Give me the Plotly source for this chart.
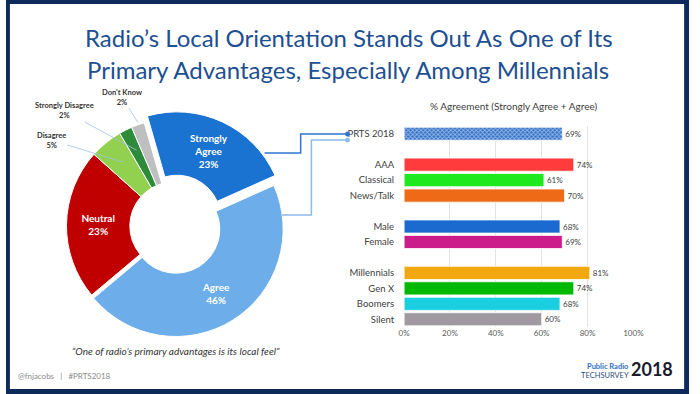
import math
import plotly.graph_objects as go

W, H = 700, 394

# ---------------- data ----------------
pie_labels = ["Strongly Agree", "Agree", "Neutral", "Disagree", "Strongly Disagree", "Don't Know"]
pie_values = [23, 46, 23, 5, 2, 2]
pie_colors = ["#1a73d0", "#6daeea", "#c00000", "#92d050", "#2e8b3a", "#bfbfbf"]

bar_categories = ["PRTS 2018", " ", "AAA", "Classical", "News/Talk", "  ",
                  "Male", "Female", "   ", "Millennials", "Gen X", "Boomers", "Silent"]
bar_values = [69, None, 74, 61, 70, None, 68, 69, None, 81, 74, 68, 60]
bar_colors = ["#2f6fc8", "#ffffff", "#ff3b3b", "#1ee81e", "#ef6a16", "#ffffff",
              "#1a6ad0", "#cc1c8c", "#ffffff", "#f2a90f", "#00b800", "#1ccfe0", "#a09aa0"]
x_ticks = [0, 20, 40, 60, 80, 100]


def px(x):
    return x / W


def py(y):
    return 1 - y / H


FONT = "Lato"

fig = go.Figure()

# ---------------- donut ----------------
cx, cy, R = 172, 226, 110
pulls = [0.07, 0.035, 0, 0, 0, 0]
half = R * (1 + max(pulls))
rotation = -16
inside_show = [True, True, True, False, False, False]
inside_text = []
total = sum(pie_values)
for lab, v, show in zip(pie_labels, pie_values, inside_show):
    if show:
        t = lab.replace("Strongly ", "Strongly<br>")
        inside_text.append(f"<b>{t}<br>{round(v)}%</b>")
    else:
        inside_text.append("")

fig.add_trace(go.Pie(
    labels=pie_labels, values=pie_values, sort=False, direction="clockwise",
    rotation=rotation, hole=0.41, pull=pulls,
    marker=dict(colors=pie_colors, line=dict(color="white", width=1)),
    text=inside_text, textinfo="text", textposition="inside",
    insidetextorientation="horizontal",
    textfont=dict(family=FONT, size=10, color="white"),
    domain=dict(x=[px(cx - half), px(cx + half)], y=[py(cy + half), py(cy - half)]),
    showlegend=False, hoverinfo="label+value",
))

annotations = []
# outside labels with leader lines for small slices
label_pos = {"Disagree": (48, 140), "Strongly Disagree": (62, 111), "Don't Know": (119, 97)}
radius_factor = {"Disagree": 0.75, "Strongly Disagree": 0.77, "Don't Know": 1.0}
cum = 0
for lab, v in zip(pie_labels, pie_values):
    mid = rotation + (cum + v / 2) / total * 360
    cum += v
    if lab in label_pos:
        rr = R * radius_factor[lab]
        hx = cx + rr * math.sin(math.radians(mid))
        hy = cy - rr * math.cos(math.radians(mid))
        lx, ly = label_pos[lab]
        annotations.append(dict(
            x=px(hx), y=py(hy), xref="paper", yref="paper",
            ax=lx - hx, ay=ly - hy, axref="pixel", ayref="pixel",
            text=f"<b>{lab}<br>{v}%</b>", showarrow=True, arrowhead=0,
            arrowwidth=0.8, arrowcolor="#9dc3e6",
            font=dict(family=FONT, size=7.5, color="#333333"), align="center",
        ))

# ---------------- bars ----------------
shapes_pat = ["x" if c == "PRTS 2018" else "" for c in bar_categories]
fig.add_trace(go.Bar(
    y=bar_categories, x=bar_values, orientation="h",
    marker=dict(color=bar_colors, line=dict(color="white", width=0.8),
                pattern=dict(shape=shapes_pat, bgcolor="#2f6fc8", fgcolor="#173a7a",
                             size=3, solidity=0.5)),
    text=[f"{v}%" if v is not None else "" for v in bar_values],
    textposition="outside", cliponaxis=False,
    textfont=dict(family=FONT, size=8, color="#404040"),
    xaxis="x", yaxis="y", showlegend=False,
))

fig.update_layout(
    width=W, height=H, margin=dict(l=0, r=0, t=0, b=0),
    paper_bgcolor="white", plot_bgcolor="white",
    bargap=0.15,
    xaxis=dict(domain=[px(408), px(643)], range=[0, 100], tickvals=x_ticks,
               ticktext=[f"{t}%" for t in x_ticks], showgrid=True, gridcolor="#e3e3e3",
               gridwidth=1, zeroline=False, showline=False, ticks="",
               tickfont=dict(family=FONT, size=8, color="#595959"), fixedrange=True),
    yaxis=dict(domain=[py(327), py(126)], categoryorder="array", categoryarray=bar_categories,
               autorange="reversed", showgrid=False, zeroline=False, showline=False,
               ticks="", ticklabelstandoff=9,
               tickfont=dict(family=FONT, size=9.5, color="#404040"), fixedrange=True),
)

# ---------------- texts ----------------
annotations += [
    dict(x=px(352), y=py(37), text="Radio’s Local Orientation Stands Out As One of Its",
         font=dict(family=FONT, size=24, color="#1d4f91")),
    dict(x=px(350), y=py(70), text="Primary Advantages, Especially Among Millennials",
         font=dict(family=FONT, size=24, color="#1d4f91")),
    dict(x=px(520), y=py(106), text="% Agreement (Strongly Agree + Agree)",
         font=dict(family=FONT, size=10, color="#404040")),
    dict(x=px(174), y=py(351), text="<i>“One of radio’s primary advantages is its local feel”</i>",
         font=dict(family=FONT, size=10, color="#333333")),
    dict(x=px(10), y=py(376), xanchor="left",
         text="@fnjacobs   |   #PRTS2018",
         font=dict(family=FONT, size=8, color="#8a8a8a")),
    dict(x=px(641), y=py(366), xanchor="right", text="<b>Public Radio</b>",
         font=dict(family=FONT, size=7.5, color="#2e6fc0")),
    dict(x=px(641), y=py(375), xanchor="right", text="TECHSURVEY",
         font=dict(family=FONT, size=7.5, color="#2e4d7a")),
    dict(x=px(662), y=py(369), text="<b>2018</b>",
         font=dict(family=FONT, size=18, color="#1a1a2e")),
]
for a in annotations:
    a.setdefault("xref", "paper")
    a.setdefault("yref", "paper")
    a.setdefault("showarrow", False)
    a.setdefault("xanchor", "center")
    if not a["showarrow"]:
        a.setdefault("yanchor", "middle")
fig.update_layout(annotations=annotations)

# ---------------- decorative shapes ----------------
shapes = []
navy = "#0e2a5a"
for x0, y0, x1, y1 in [(0, 0, 700, 4), (0, 389, 700, 394), (0, 0, 4, 394), (695, 0, 700, 394)]:
    shapes.append(dict(type="rect", xref="paper", yref="paper", x0=px(x0), x1=px(x1),
                       y0=py(y1), y1=py(y0), fillcolor=navy, line=dict(width=0)))


def path(points):
    return "M " + " L ".join(f"{px(x)},{py(y)}" for x, y in points)


shapes.append(dict(type="path", xref="paper", yref="paper",
                   path=path([(265, 153), (302, 153), (302, 134), (350, 134)]),
                   line=dict(color="#2e75d0", width=1.5)))
shapes.append(dict(type="path", xref="paper", yref="paper",
                   path=path([(283, 215), (313, 215), (313, 140), (350, 140)]),
                   line=dict(color="#8dbbea", width=1.5)))
for (x, y, c) in [(350, 134, "#2e75d0"), (350, 140, "#8dbbea")]:
    shapes.append(dict(type="circle", xref="paper", yref="paper",
                       x0=px(x - 2.5), x1=px(x + 2.5), y0=py(y + 2.5), y1=py(y - 2.5),
                       fillcolor=c, line=dict(width=0)))
fig.update_layout(shapes=shapes)

fig.write_html(
    "out.html",
    config={"displayModeBar": False},
    post_script="document.body.style.margin='0';document.body.style.overflow='hidden';"
                "document.documentElement.style.overflow='hidden';",
)
